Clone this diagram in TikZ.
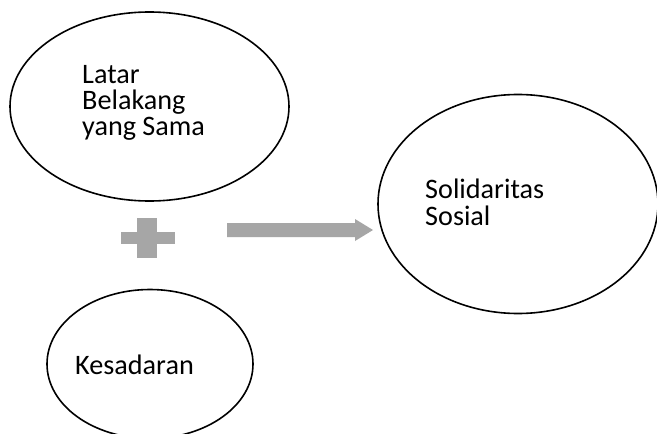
\documentclass[tikz,border=0pt]{standalone}
\usepackage{fontspec}
\setmainfont{Carlito}
\usetikzlibrary{shapes.geometric}
\definecolor{arrowgray}{HTML}{A6A6A6}
\tikzset{
  oval/.style={draw=black, line width=1.6pt},
  lbl/.style={anchor=base west, inner sep=0pt, font=\fontsize{28.2}{26}\selectfont, align=left},
  graybar/.style={fill=arrowgray, draw=none},
}
\begin{document}
\begin{tikzpicture}[x=1pt,y=-1pt]
\useasboundingbox (0,0) rectangle (657,434);
\fill[white] (0,0) rectangle (657,434);
\begin{scope}
\clip (0,0) rectangle (657,434);
\node[oval, ellipse, minimum width=279pt, minimum height=189pt, inner sep=0pt] (latar) at (149.5,106.5) {};
\node[oval, ellipse, minimum width=280pt, minimum height=219pt, inner sep=0pt] (soli) at (518,204) {};
\node[oval, ellipse, minimum width=206pt, minimum height=149pt, inner sep=0pt] (kes) at (150,364) {};
\end{scope}
\node[lbl] (tlatar) at (82,135) {Latar\\Belakang\\yang Sama};
\node[lbl, font=\fontsize{28.2}{27}\selectfont] (tsoli) at (425,225) {Solidaritas\\Sosial};
\node[lbl] (tkes) at (75,374) {Kesadaran};
% plus sign
\coordinate (plus) at (147,238);
\fill[graybar] ([xshift=-26pt,yshift=-6pt]plus) rectangle ([xshift=28pt,yshift=6pt]plus);
\fill[graybar] ([xshift=-10pt,yshift=-20pt]plus) rectangle ([xshift=10pt,yshift=20pt]plus);
% arrow
\coordinate (astart) at (227,230);
\coordinate (atip) at (373,230);
\fill[graybar] (astart) ++(0,-7) -- (355,223) -- (355,219) -- (atip) -- (355,241) -- (355,237) -- (227,237) -- cycle;
\end{tikzpicture}
\end{document}
